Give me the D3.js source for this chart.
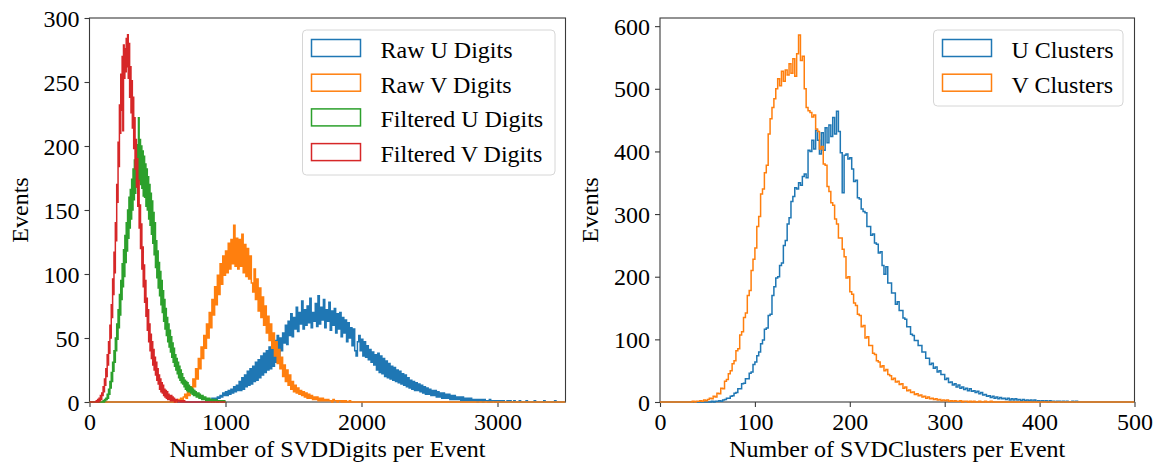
<!DOCTYPE html>
<html>
<head>
<meta charset="utf-8">
<script src="https://cdn.jsdelivr.net/npm/d3@7"></script>
<style>
  html, body { margin: 0; padding: 0; background: #fff; }
  svg text { font-family: "Liberation Serif", "Times New Roman", serif; fill: #000; }
</style>
</head>
<body>
<svg id="chart" width="1165" height="464"></svg>
<script>
// ---------- SVD digits per event ----------
const digitRange = [0, 3500];
const filteredRange = [0, 1000];

// filtered digits: bins of 5 digits
const filteredBinWidth = 5;
const filtVStart = 40;
const filtVCounts = [0,0,1,0,2,0,3,1,5,2,7,5,12,8,18,13,26,20,37,29,47,38,60,50,76,66,96,84,117,101,140,126,170,156,203,184,232,210,256,228,270,212,279,253,276,258,284,262,287,253,280,238,262,226,251,214,238,198,222,182,205,168,190,153,173,136,154,120,139,104,121,90,107,78,95,67,81,56,72,47,61,40,53,34,47,29,41,25,35,21,31,17,26,14,21,10,18,8,15,7,13,5,10,4,9,3,8,2,6,2,5,1,5,1,4,1,3,0,2,1,2,0,1,1,1,0,1,0,1,0,0,1,0];

const filtUStart = 90;
const filtUCounts = [0,0,1,0,2,1,3,2,6,3,10,6,16,11,23,16,31,24,40,31,50,40,61,49,72,58,84,68,95,80,108,90,119,98,130,109,140,118,150,128,160,136,166,143,174,150,182,158,189,163,196,168,201,171,222,173,205,170,200,167,196,161,192,160,186,153,182,150,176,143,170,138,163,131,157,124,148,115,140,105,126,97,118,89,109,83,102,76,95,70,87,63,80,57,73,52,66,47,61,43,56,39,51,35,46,31,42,28,37,25,34,22,31,19,28,17,25,15,22,14,19,12,17,10,16,9,15,8,13,8,12,7,11,6,10,5,9,5,8,4,7,4,7,3,6,3,5,2,5,2,4,2,4,1,3,1,3,1,3,1,2,0,2,1,2,0,1,1,2,0,1,0,1,1,1,0,0,1,0,0,1,0];

// raw digits: bins of 10 digits
const rawBinWidth = 10;
const rawVStart = 600;
const rawVCounts = [
  0,0,1,0,1,2,1,3,2,4,
  6,3,9,5,12,8,18,12,26,18,
  34,26,43,34,52,42,61,50,70,58,
  80,68,90,76,99,84,108,92,114,99,
  118,101,124,104,127,108,138,106,128,104,
  127,106,131,101,123,98,120,96,114,93,
  86,104,80,96,71,89,66,82,60,75,
  54,67,48,61,42,54,36,47,30,41,
  26,35,20,29,16,25,13,21,10,16,
  8,13,7,11,6,9,5,8,4,7,
  3,6,3,5,2,4,2,4,1,3,
  1,3,1,2,1,2,1,1,0,2,
  1,1,0,1,1,0,1,0,1,0,0,1,0];

const rawUStart = 850;
const rawUCounts = [
  0,1,0,2,1,3,1,3,2,4,3,5,4,7,5,8,5,9,6,10,7,12,8,13,9,
  16,9,19,10,21,12,24,13,26,14,28,16,31,17,33,19,36,21,38,23,40,25,43,26,45,28,48,31,52,33,
  50,40,54,46,60,45,63,52,69,51,66,57,74,55,70,61,79,57,72,60,75,62,81,58,70,63,77,59,83,61,74,64,80,58,72,63,78,56,71,60,73,54,69,57,70,51,66,54,64,47,62,50,58,44,57,40,36,47,52,40,49,36,47,35,44,33,41,31,39,29,37,
  25,38,23,36,22,34,20,32,19,30,18,28,17,27,16,25,15,24,14,22,13,21,12,19,11,17,10,16,9,15,9,14,8,13,7,12,6,11,6,10,5,9,5,9,4,8,4,7,3,7,3,6,3,6,2,5,2,5,2,4,2,4,1,4,1,3,1,3,1,3,1,2,1,2,0,2,1,2,0,2,1,1,0,2,0,1,1,0,1,1,0,1,0,1,0,0,1,0,1,0,
  0,1,0,0,0,1,0,0,0,0,1,0,0,0,0,0,1,0,0,0,0,0,0,1,0,0,0,0,0,0,0,1,0,0,0];

// ---------- SVD clusters per event (bins of 2 clusters) ----------
const clusterBinWidth = 2;
const clusterRange = [0, 500];

const uClustersStart = 50;
const uClustersCounts = [0,0,1,0,1,1,2,1,3,4,6,6,9,10,14,15,21,21,29,30,37,37,46,48,60,64,74,80,93,99,116,118,138,140,170,184,198,200,218,222,250,258,284,294,320,328,342,340,350,346,360,364,358,402,400,418,404,434,418,396,430,402,438,414,442,424,454,428,464,432,398,334,394,396,388,390,372,352,354,326,324,308,304,302,280,280,266,268,254,252,238,240,218,204,216,190,190,174,174,156,160,146,146,134,132,120,120,108,106,98,98,90,90,80,80,70,70,60,62,54,56,48,50,44,44,36,38,31,32,27,29,24,27,22,24,20,22,18,21,17,18,15,17,13,15,11,12,9,10,7,9,6,8,5,7,5,6,4,6,3,5,3,5,3,4,2,4,2,3,2,3,1,3,1,2,1,2,1,2,0,2,1,1,0,1,1,0,1,0,1,0,0,1,0,1,0];

const vClustersStart = 30;
const vClustersCounts = [0,0,1,0,1,1,2,1,3,2,4,6,5,9,8,14,13,22,21,33,36,45,50,61,66,82,85,107,112,135,142,170,178,210,228,246,280,296,332,340,366,378,428,452,470,484,500,516,505,528,512,530,522,540,525,548,520,556,586,545,552,500,470,465,462,455,458,436,432,404,408,380,378,344,336,318,314,292,284,262,262,244,232,198,200,176,172,158,154,140,138,120,122,102,104,90,90,78,76,66,64,56,58,50,52,44,42,36,38,32,33,28,29,22,24,18,19,15,16,12,13,10,11,8,9,6,8,5,6,4,5,3,4,2,3,2,3,1,2,1,2,1,1,2,0,1,1,0,1,0,1,0,0,1,0,0,1,0,0,1];

// ---------- tick values ----------
const digitXTicks = [0, 1000, 2000, 3000];
const digitYTicks = [0, 50, 100, 150, 200, 250, 300];
const clusterXTicks = [0, 100, 200, 300, 400, 500];
const clusterYTicks = [0, 100, 200, 300, 400, 500, 600];

const C = { blue: "#1f77b4", orange: "#ff7f0e", green: "#2ca02c", red: "#d62728" };

const svg = d3.select("#chart");
const FONT = 24;

// Step outline of a histogram, zero outside the filled bins
function histPoints(start, width, counts, range) {
  const pts = [[range[0], 0], [start, 0]];
  counts.forEach((c, i) => {
    const a = start + i * width;
    pts.push([a, c], [a + width, c]);
  });
  pts.push([start + counts.length * width, 0], [range[1], 0]);
  return pts;
}

function panel(cfg) {
  const { left, right, top, bottom } = cfg;
  const x = d3.scaleLinear().domain(cfg.xDomain).range([left, right]);
  const y = d3.scaleLinear().domain(cfg.yDomain).range([bottom, top]);
  const g = svg.append("g");

  const clipId = "clip-" + cfg.id;
  svg.append("clipPath").attr("id", clipId)
    .append("rect").attr("x", left).attr("y", top - 2)
    .attr("width", right - left).attr("height", bottom - top + 3);

  // frame
  g.append("rect").attr("x", left).attr("y", top)
    .attr("width", right - left).attr("height", bottom - top)
    .attr("fill", "none").attr("stroke", "#3a3a3a").attr("stroke-width", 1.1);

  // axes
  const xa = g.append("g").attr("transform", `translate(0,${bottom})`)
    .call(d3.axisBottom(x).tickValues(cfg.xTicks).tickSize(5).tickPadding(6).tickFormat(d3.format("d")));
  const ya = g.append("g").attr("transform", `translate(${left},0)`)
    .call(d3.axisLeft(y).tickValues(cfg.yTicks).tickSize(5).tickPadding(5).tickFormat(d3.format("d")));
  [xa, ya].forEach(a => {
    a.select(".domain").remove();
    a.selectAll(".tick line").attr("stroke", "#3a3a3a").attr("stroke-width", 1.1);
    a.selectAll(".tick text").attr("font-size", FONT)
      .style("font-family", '"Liberation Serif", "Times New Roman", serif');
  });
  xa.selectAll(".tick text").attr("dy", "0.71em");
  ya.selectAll(".tick text").attr("dy", "0.34em");

  // histograms
  const line = d3.line().x(d => x(d[0])).y(d => y(d[1]));
  const hg = g.append("g").attr("clip-path", `url(#${clipId})`);
  cfg.series.forEach(s => {
    hg.append("path")
      .attr("d", line(histPoints(s.start, s.width, s.counts, s.range)))
      .attr("fill", "none").attr("stroke", s.color)
      .attr("stroke-width", 1.5).attr("stroke-linejoin", "miter");
  });

  // axis titles
  g.append("text").attr("x", (left + right) / 2).attr("y", 457)
    .attr("text-anchor", "middle").attr("font-size", FONT).text(cfg.xLabel);
  g.append("text")
    .attr("transform", `translate(${cfg.yLabelX},${(top + bottom) / 2}) rotate(-90)`)
    .attr("text-anchor", "middle").attr("font-size", FONT).text("Events");

  // legend
  const L = cfg.legend;
  const lg = g.append("g");
  lg.append("rect").attr("x", L.x).attr("y", L.y).attr("width", L.w).attr("height", L.h)
    .attr("rx", 4).attr("fill", "#fff").attr("fill-opacity", 0.8)
    .attr("stroke", "#d6d6d6").attr("stroke-width", 1);
  cfg.series.forEach((s, i) => {
    const ry = L.y + 9.5 + i * 34.7;
    lg.append("rect").attr("x", L.x + 9).attr("y", ry).attr("width", 49).attr("height", 17)
      .attr("fill", "none").attr("stroke", s.color).attr("stroke-width", 1.5);
    lg.append("text").attr("x", L.x + 78).attr("y", ry + 18.5)
      .attr("font-size", FONT).text(s.name);
  });
}

panel({
  id: "digits",
  left: 89.5, right: 565.5, top: 18, bottom: 402,
  xDomain: digitRange, yDomain: [0, 300],
  xTicks: digitXTicks, yTicks: digitYTicks,
  xLabel: "Number of SVDDigits per Event", yLabelX: 28,
  legend: { x: 302.5, y: 30, w: 252.5, h: 145 },
  series: [
    { name: "Raw U Digits", color: C.blue, start: rawUStart, width: rawBinWidth, counts: rawUCounts, range: digitRange },
    { name: "Raw V Digits", color: C.orange, start: rawVStart, width: rawBinWidth, counts: rawVCounts, range: digitRange },
    { name: "Filtered U Digits", color: C.green, start: filtUStart, width: filteredBinWidth, counts: filtUCounts, range: filteredRange },
    { name: "Filtered V Digits", color: C.red, start: filtVStart, width: filteredBinWidth, counts: filtVCounts, range: filteredRange }
  ]
});

panel({
  id: "clusters",
  left: 660, right: 1134.5, top: 18, bottom: 402,
  xDomain: clusterRange, yDomain: [0, 613],
  xTicks: clusterXTicks, yTicks: clusterYTicks,
  xLabel: "Number of SVDClusters per Event", yLabelX: 598,
  legend: { x: 933.5, y: 30, w: 189.5, h: 76 },
  series: [
    { name: "U Clusters", color: C.blue, start: uClustersStart, width: clusterBinWidth, counts: uClustersCounts, range: clusterRange },
    { name: "V Clusters", color: C.orange, start: vClustersStart, width: clusterBinWidth, counts: vClustersCounts, range: clusterRange }
  ]
});
</script>
</body>
</html>
